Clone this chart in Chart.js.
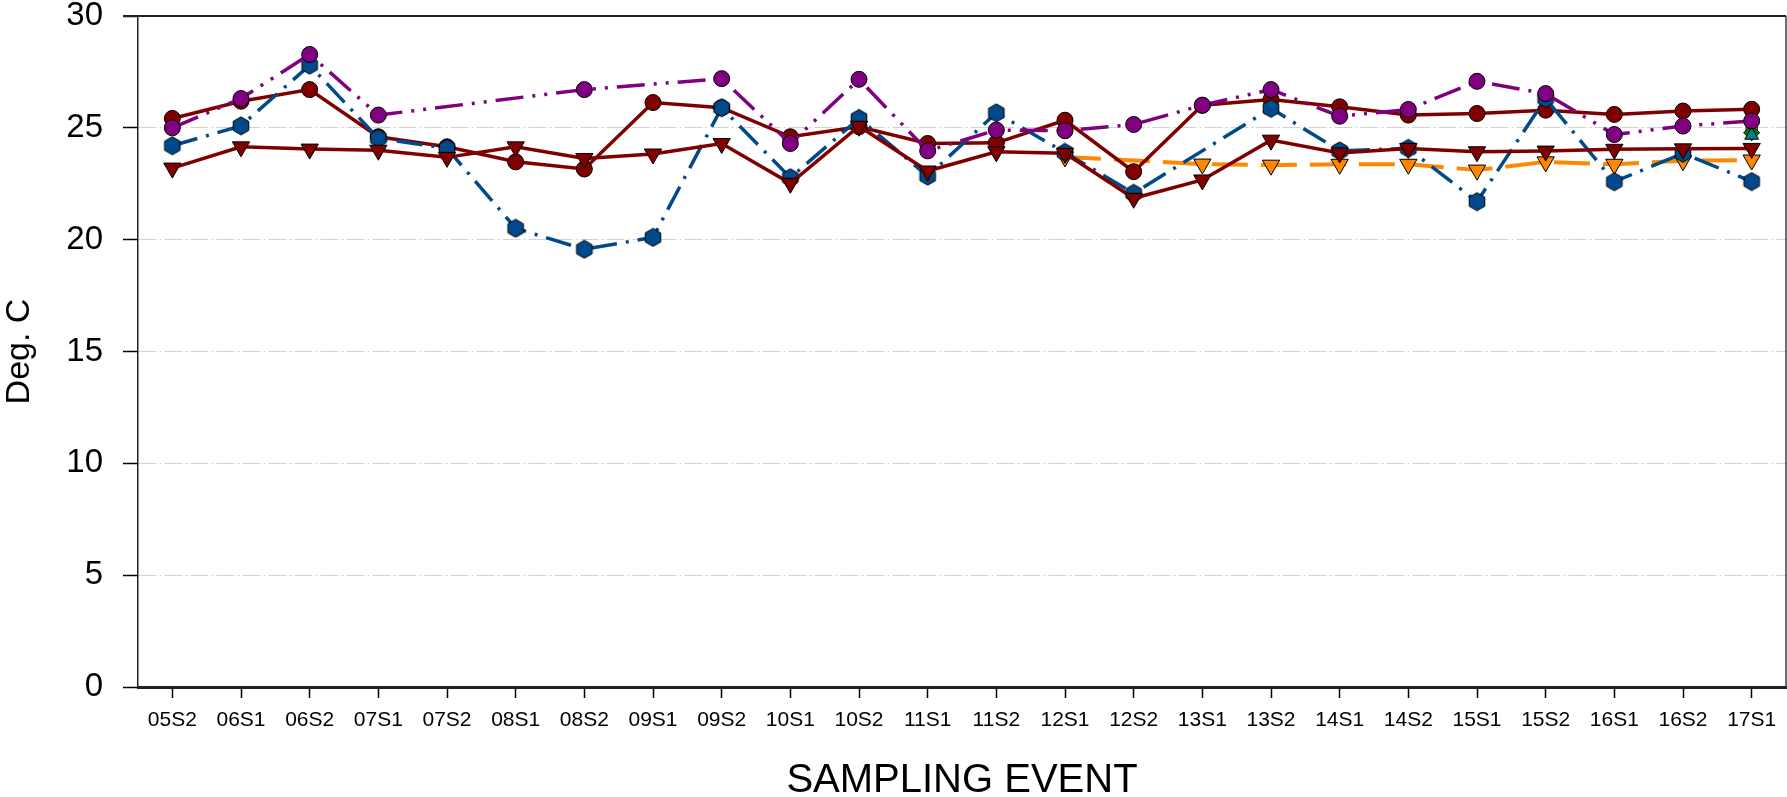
<!DOCTYPE html>
<html>
<head>
<meta charset="utf-8">
<script src="https://cdn.jsdelivr.net/npm/chart.js@4/dist/chart.umd.min.js"></script>
<style>
  body { margin: 0; background: #fff; }
  canvas { display: block; }
</style>
</head>
<body>
<canvas id="myChart" width="1787" height="797"></canvas>
<script>
var labels = ['05S2','06S1','06S2','07S1','07S2','08S1','08S2','09S1','09S2','10S1','10S2','11S1',
              '11S2','12S1','12S2','13S1','13S2','14S1','14S2','15S1','15S2','16S1','16S2','17S1'];

var redCircle = [25.42, 26.19, 26.71, 24.60, 24.15, 23.48, 23.16, 26.13, 25.90, 24.60, 25.05, 24.30,
                 24.33, 25.34, 23.04, 26.01, 26.27, 25.94, 25.57, 25.64, 25.79, 25.60, 25.75, 25.83];
var redTriangle = [23.20, 24.15, 24.05, 24.00, 23.68, 24.15, 23.63, 23.83, 24.30, 22.52, 25.07, 23.07,
                   23.93, 23.86, 21.85, 22.67, 24.45, 23.88, 24.08, 23.93, 23.96, 24.04, 24.06, 24.08];
var blueHex = [24.20, 25.09, 27.80, 24.53, 24.08, 20.51, 19.57, 20.10, 25.90, 22.77, 25.42, 22.84,
               25.67, 23.90, 22.07, null, 25.87, 23.97, 24.08, 21.70, 26.31, 22.59, 23.86, 22.60];
var purpleCircle = [25.00, 26.31, 28.28, 25.57, null, null, 26.71, null, 27.20, 24.30, 27.17, 23.97,
                    24.90, 24.87, 25.15, 26.01, 26.71, 25.52, 25.82, 27.08, 26.53, 24.70, 25.08, 25.31];
var orangeTriangle = [null, null, null, null, null, null, null, null, null, null, null, null,
                      null, 23.70, null, 23.38, 23.33, 23.37, 23.37, 23.11, 23.48, 23.37, 23.53, 23.56];
var yellowSquare = [null, null, null, null, null, null, null, null, null, null, null, null,
                    null, null, null, null, null, null, null, null, null, null, null, 25.05];
var greenDiamond = [null, null, null, null, null, null, null, null, null, null, null, null,
                    null, null, null, null, null, null, null, null, null, null, null, 24.78];
var tealTriangle = [null, null, null, null, null, null, null, null, null, null, null, null,
                    null, null, null, null, null, null, null, null, null, null, null, 24.67];
var yTicks = [0, 5, 10, 15, 20, 25, 30];

// hexagon marker for the blue series
function makeHex(fill) {
  var c = document.createElement('canvas');
  c.width = 20; c.height = 20;
  var g = c.getContext('2d');
  g.beginPath();
  for (var i = 0; i < 6; i++) {
    var a = Math.PI / 3 * i;
    var px = 10 + 9 * Math.sin(a), py = 10 - 9 * Math.cos(a);
    if (i === 0) g.moveTo(px, py); else g.lineTo(px, py);
  }
  g.closePath();
  g.fillStyle = fill;
  g.fill();
  g.lineWidth = 1;
  g.strokeStyle = '#000';
  g.stroke();
  return c;
}
var hex = makeHex('#004a8c');

var frame = {
  id: 'frame',
  afterDraw: function(chart) {
    var a = chart.chartArea, ctx = chart.ctx;
    ctx.save();
    ctx.strokeStyle = '#222';
    ctx.lineWidth = 2.2;
    ctx.beginPath();
    ctx.moveTo(a.left - 15, a.top);
    ctx.lineTo(a.right, a.top);
    ctx.stroke();
    ctx.lineWidth = 1.3;
    ctx.beginPath();
    ctx.moveTo(a.right, a.top);
    ctx.lineTo(a.right, a.bottom);
    ctx.stroke();
    ctx.restore();
  }
};

var font = "'Liberation Sans', Arial, sans-serif";
var ctx = document.getElementById('myChart');
var myChart = new Chart(ctx, {
  type: 'line',
  data: {
    labels: labels,
    datasets: [
      {
        label: 'A', data: redCircle, order: 5,
        borderColor: '#800000', borderWidth: 3.5,
        pointStyle: 'circle', pointRadius: 8, pointBackgroundColor: '#800000',
        pointBorderColor: '#000', pointBorderWidth: 1
      },
      {
        label: 'B', data: blueHex, order: 4, spanGaps: true,
        borderColor: '#004a8c', borderWidth: 3.5, borderDash: [26, 9, 3, 9],
        pointStyle: hex, pointRadius: 10
      },
      {
        label: 'C', data: redTriangle, order: 3,
        borderColor: '#800000', borderWidth: 3.5,
        pointStyle: 'triangle', rotation: 180, pointRadius: 10, pointBackgroundColor: '#800000',
        pointBorderColor: '#000', pointBorderWidth: 1
      },
      {
        label: 'D', data: purpleCircle, order: 2, spanGaps: true,
        borderColor: '#800080', borderWidth: 3.5, borderDash: [28, 9, 3, 9, 3, 9],
        pointStyle: 'circle', pointRadius: 8, pointBackgroundColor: '#800080',
        pointBorderColor: '#000', pointBorderWidth: 1
      },
      {
        label: 'E', data: orangeTriangle, order: 9, spanGaps: true,
        borderColor: '#ff8800', borderWidth: 4, borderDash: [36, 13],
        pointStyle: 'triangle', rotation: 180, pointRadius: 10, pointBackgroundColor: '#ff8800',
        pointBorderColor: '#000', pointBorderWidth: 1
      },
      {
        label: 'F', data: yellowSquare, order: 8,
        borderColor: '#c8c800', borderWidth: 3,
        pointStyle: 'rect', pointRadius: 8, pointBackgroundColor: '#c8c800',
        pointBorderColor: '#000', pointBorderWidth: 1
      },
      {
        label: 'G', data: greenDiamond, order: 7,
        borderColor: '#008000', borderWidth: 3,
        pointStyle: 'rectRot', pointRadius: 8, pointBackgroundColor: '#008000',
        pointBorderColor: '#000', pointBorderWidth: 1
      },
      {
        label: 'H', data: tealTriangle, order: 6,
        borderColor: '#008080', borderWidth: 3,
        pointStyle: 'triangle', pointRadius: 8, pointBackgroundColor: '#008080',
        pointBorderColor: '#000', pointBorderWidth: 1
      }
    ]
  },
  options: {
    responsive: false,
    animation: false,
    events: [],
    devicePixelRatio: 1,
    layout: { autoPadding: false, padding: { top: 16, right: 1, left: 0, bottom: 0 } },
    plugins: { legend: { display: false }, tooltip: { enabled: false } },
    elements: { line: { tension: 0 } },
    scales: {
      x: {
        offset: true,
        afterFit: function(s) { s.height = 110; s.paddingLeft = 0; s.paddingRight = 0; },
        grid: {
          drawOnChartArea: false, tickLength: 11, tickColor: '#000', tickWidth: 1.5, offset: false
        },
        border: { display: true, color: '#222', width: 3 },
        ticks: { color: '#000', padding: 10, maxRotation: 0, autoSkip: false,
                 font: { family: font, size: 21 } },
        title: { display: true, text: 'SAMPLING EVENT', color: '#000',
                 font: { family: font, size: 40, lineHeight: 0.8 }, padding: { top: 0, bottom: 0 } }
      },
      y: {
        min: 0, max: 30,
        afterFit: function(s) { s.width = 138; s.paddingTop = 0; s.paddingBottom = 0; },
        afterBuildTicks: function(s) { s.ticks = yTicks.map(function(v) { return { value: v }; }); },
        grid: {
          color: function(c) {
            var v = c.tick && c.tick.value;
            return (v === 0 || v === 30) ? 'rgba(0,0,0,0)' : '#d2d2d2';
          },
          lineWidth: 1, tickLength: 15, tickColor: '#000', tickWidth: 1.5
        },
        border: { display: true, color: '#222', width: 1.5, dash: [18, 3, 2, 3] },
        ticks: { color: '#000', padding: 20, font: { family: font, size: 33, lineHeight: 1 } },
        title: { display: true, text: 'Deg. C', color: '#000',
                 font: { family: font, size: 34, lineHeight: 1 }, padding: { top: 3, bottom: 0 } }
      }
    }
  },
  plugins: [frame]
});
</script>
</body>
</html>
